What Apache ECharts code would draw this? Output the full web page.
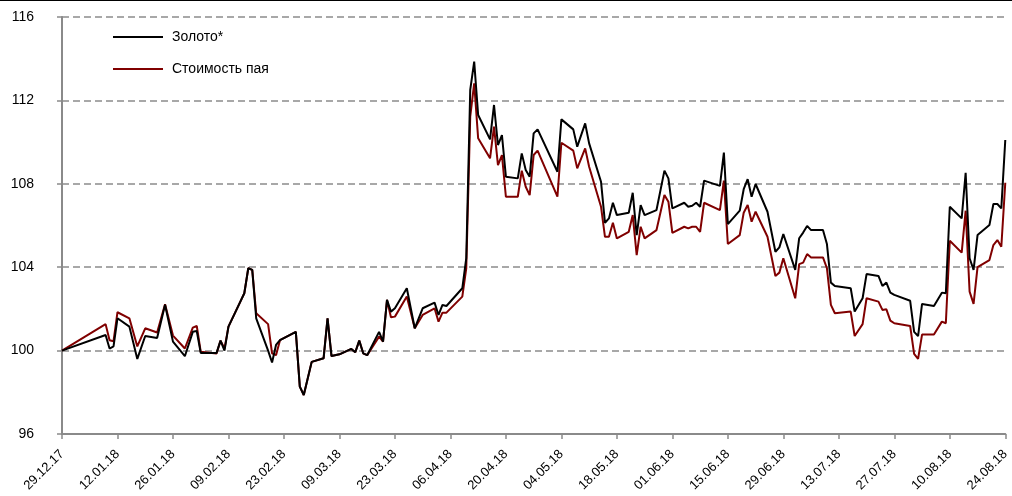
<!DOCTYPE html>
<html><head><meta charset="utf-8">
<script src="https://cdn.jsdelivr.net/npm/echarts@6/dist/echarts.min.js"></script>
<style>html,body{margin:0;padding:0;background:#fff}#c{width:1012px;height:496px}</style>
</head><body><div id="c"></div>
<script>
const dates = ['2017-12-29','2018-01-09','2018-01-10','2018-01-11','2018-01-12','2018-01-15','2018-01-17','2018-01-19','2018-01-22','2018-01-24','2018-01-26','2018-01-29','2018-01-31','2018-02-01','2018-02-02','2018-02-06','2018-02-07','2018-02-08','2018-02-09','2018-02-12','2018-02-13','2018-02-14','2018-02-15','2018-02-16','2018-02-19','2018-02-20','2018-02-21','2018-02-22','2018-02-26','2018-02-27','2018-02-28','2018-03-02','2018-03-05','2018-03-06','2018-03-07','2018-03-09','2018-03-12','2018-03-13','2018-03-14','2018-03-15','2018-03-16','2018-03-19','2018-03-20','2018-03-21','2018-03-22','2018-03-23','2018-03-26','2018-03-28','2018-03-30','2018-04-02','2018-04-03','2018-04-04','2018-04-05','2018-04-09','2018-04-10','2018-04-11','2018-04-12','2018-04-13','2018-04-16','2018-04-17','2018-04-18','2018-04-19','2018-04-20','2018-04-23','2018-04-24','2018-04-25','2018-04-26','2018-04-27','2018-04-28','2018-05-03','2018-05-04','2018-05-07','2018-05-08','2018-05-10','2018-05-11','2018-05-14','2018-05-15','2018-05-16','2018-05-17','2018-05-18','2018-05-21','2018-05-22','2018-05-23','2018-05-24','2018-05-25','2018-05-28','2018-05-30','2018-05-31','2018-06-01','2018-06-04','2018-06-05','2018-06-06','2018-06-07','2018-06-08','2018-06-09','2018-06-13','2018-06-14','2018-06-15','2018-06-18','2018-06-19','2018-06-20','2018-06-21','2018-06-22','2018-06-25','2018-06-27','2018-06-28','2018-06-29','2018-07-02','2018-07-03','2018-07-04','2018-07-05','2018-07-06','2018-07-09','2018-07-10','2018-07-11','2018-07-12','2018-07-16','2018-07-17','2018-07-19','2018-07-20','2018-07-23','2018-07-24','2018-07-25','2018-07-26','2018-07-27','2018-07-31','2018-08-01','2018-08-02','2018-08-03','2018-08-06','2018-08-08','2018-08-09','2018-08-10','2018-08-13','2018-08-14','2018-08-15','2018-08-16','2018-08-17','2018-08-20','2018-08-21','2018-08-22','2018-08-23','2018-08-24'];
const gold = [100,100.75,100.1,100.2,101.55,101.15,99.6,100.7,100.6,102.2,100.43,99.73,100.9,100.94,99.89,99.89,100.48,100.0,101.15,102.35,102.75,103.95,103.87,101.55,100.0,99.43,100.27,100.5,100.9,98.27,97.87,99.46,99.63,101.55,99.74,99.82,100.08,99.92,100.48,99.87,99.78,100.9,100.43,102.43,101.87,102.03,102.99,101.07,102.03,102.3,101.71,102.19,102.14,102.99,104.43,112.5,113.86,111.3,110.13,111.78,109.86,110.34,108.34,108.26,109.46,108.66,108.34,110.42,110.61,108.58,111.09,110.61,109.78,110.9,109.94,108.1,106.13,106.34,107.09,106.5,106.61,107.57,105.54,106.98,106.5,106.74,108.63,108.26,106.82,107.09,106.9,106.95,107.09,106.9,108.15,107.9,109.5,106.07,106.71,107.74,108.22,107.38,107.99,106.66,104.74,104.95,105.59,103.87,105.39,105.66,105.98,105.78,105.78,105.11,103.26,103.1,102.99,101.87,102.51,103.67,103.58,103.1,103.26,102.78,102.67,102.39,100.9,100.7,102.24,102.14,102.78,102.75,106.9,106.34,108.53,104.43,103.87,105.54,106.02,107.03,107.03,106.82,110.1];
const fund = [100,101.27,100.5,100.45,101.84,101.55,100.2,101.07,100.87,102.22,100.72,100.1,101.1,101.18,99.95,99.86,100.48,100.1,101.15,102.35,102.75,103.95,103.87,101.79,101.27,99.87,99.78,100.5,100.9,98.27,97.87,99.46,99.63,101.55,99.74,99.82,100.08,99.92,100.48,99.87,99.78,100.67,100.43,102.43,101.6,101.63,102.59,101.07,101.71,102.03,101.39,101.82,101.82,102.59,103.95,111.22,112.82,110.18,109.22,110.74,108.9,109.38,107.38,107.38,108.63,107.86,107.46,109.38,109.59,107.38,109.97,109.59,108.74,109.7,108.82,106.9,105.46,105.46,106.13,105.38,105.7,106.5,104.58,105.94,105.38,105.78,107.46,107.14,105.65,105.94,105.86,105.94,105.94,105.7,107.09,106.74,108.15,105.11,105.54,106.61,106.98,106.18,106.66,105.46,103.58,103.74,104.43,102.51,104.15,104.22,104.63,104.47,104.47,103.95,102.19,101.79,101.87,100.7,101.27,102.51,102.35,101.95,101.98,101.44,101.31,101.18,99.84,99.6,100.77,100.77,101.39,101.31,105.27,104.7,106.71,102.83,102.24,104.0,104.34,105.06,105.3,104.98,108.05];
const seriesNames = ['Золото*', 'Стоимость пая'];
const startDate = '2017-12-29';
const endDate = '2018-08-24';
const yTicks = [96, 100, 104, 108, 112, 116];

const DAY = 86400000;
const t0 = Date.parse(startDate + 'T00:00:00Z');
const off = d => Math.round((Date.parse(d + 'T00:00:00Z') - t0) / DAY);
const fmt = v => {
  const dt = new Date(t0 + v * DAY);
  const p = n => String(n).padStart(2, '0');
  return p(dt.getUTCDate()) + '.' + p(dt.getUTCMonth() + 1) + '.' + String(dt.getUTCFullYear()).slice(2);
};
const chart = echarts.init(document.getElementById('c'), null, {renderer: 'canvas'});
const font = 'Liberation Sans, Arial, sans-serif';
chart.setOption({
  animation: false,
  backgroundColor: '#fff',
  textStyle: {fontFamily: font},
  graphic: [{type: 'line', shape: {x1: 0, y1: 0.5, x2: 1012, y2: 0.5}, style: {stroke: '#000', lineWidth: 1}}],
  grid: {left: 62, right: 3, top: 17, bottom: 62},
  legend: {
    orient: 'vertical', left: 108, top: 25, itemWidth: 50, itemHeight: 2, itemGap: 18, icon: 'rect',
    textStyle: {fontSize: 14, color: '#000', fontFamily: font, padding: [0, 0, 0, 4]},
    data: seriesNames
  },
  xAxis: {
    type: 'value', min: 0, max: off(endDate), interval: 14,
    axisLine: {lineStyle: {color: '#8a8a8a', width: 2}},
    axisTick: {show: true, length: 5, lineStyle: {color: '#8a8a8a', width: 1.5}},
    splitLine: {show: false},
    axisLabel: {rotate: 45, fontSize: 13, color: '#000', margin: 18, formatter: v => fmt(v), fontFamily: font}
  },
  yAxis: {
    type: 'value', min: yTicks[0], max: yTicks[yTicks.length - 1], interval: 4,
    axisLine: {show: true, lineStyle: {color: '#8a8a8a', width: 2}},
    axisTick: {show: true, length: 5, lineStyle: {color: '#8a8a8a', width: 1.5}},
    splitLine: {show: true, lineStyle: {color: '#8c8c8c', type: [7, 4], width: 1.5}},
    axisLabel: {fontSize: 14, color: '#000', margin: 28, fontFamily: font}
  },
  series: [
    {name: seriesNames[1], type: 'line', symbol: 'none', z: 2,
     lineStyle: {color: '#800000', width: 2}, itemStyle: {color: '#800000'},
     data: dates.map((d, i) => [off(d), fund[i]])},
    {name: seriesNames[0], type: 'line', symbol: 'none', z: 3,
     lineStyle: {color: '#000', width: 2}, itemStyle: {color: '#000'},
     data: dates.map((d, i) => [off(d), gold[i]])}
  ]
});
</script></body></html>
